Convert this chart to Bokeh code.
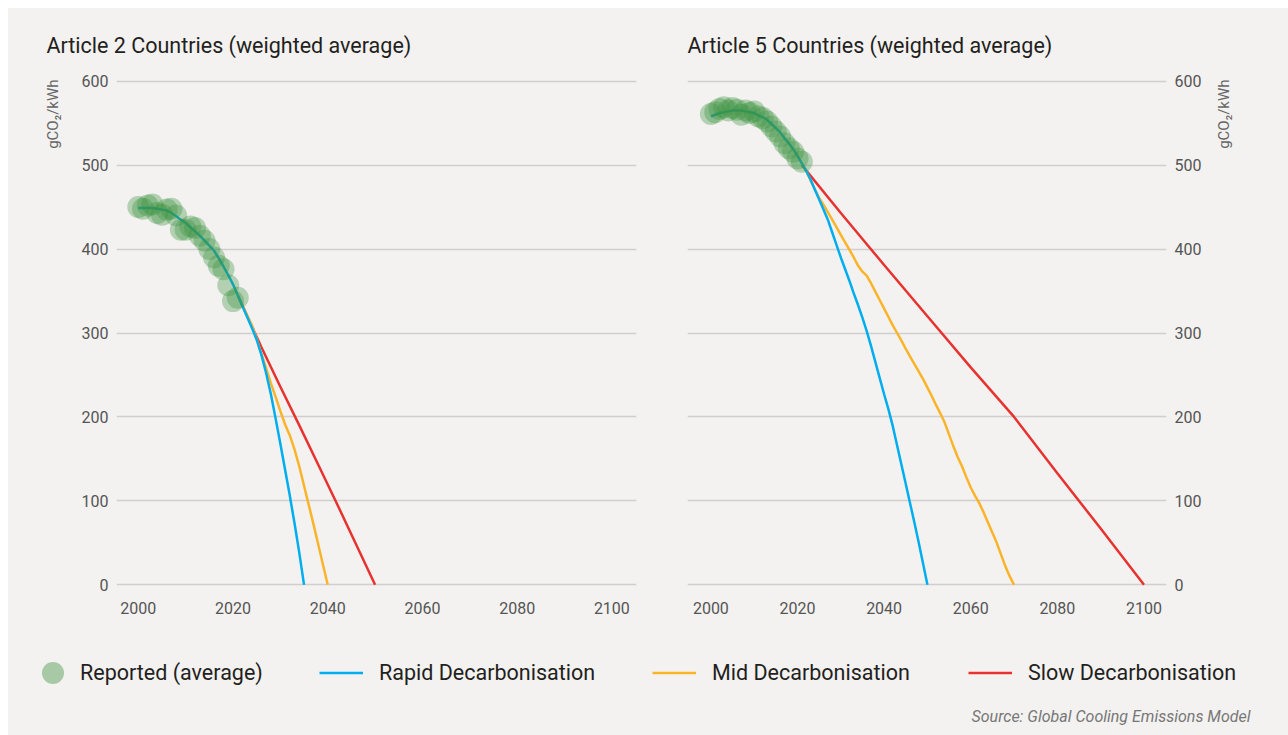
import math
import numpy as np
from bokeh.plotting import figure
from bokeh.layouts import column, row
from bokeh.models import Range1d, FixedTicker, Label, Legend, LegendItem, Title
from bokeh.embed import file_html
from bokeh.resources import INLINE

# ---------------- data ----------------
years_reported = list(range(2000, 2022))

a2_reported = [450, 448, 452, 453, 443, 441, 447, 448, 440, 423, 423,
               427, 425, 416, 410, 400, 390, 380, 376, 357, 338, 342]
a2_trend = [449, 449, 449, 449, 448, 447, 446, 443, 439, 435, 431,
            426, 421, 416, 410, 404, 398, 389, 379, 369, 358, 345]

a2_rapid_years = list(range(2021, 2036))
a2_rapid = [345, 332, 319, 306, 292, 274, 252, 227, 198, 168, 137, 106, 73, 38, 0]
a2_mid_years = list(range(2021, 2041))
a2_mid = [345, 333, 321, 309, 293, 275, 258, 240, 224, 207, 191, 178, 161, 141,
          118, 95, 72, 48, 24, 0]
a2_slow_years = [2021, 2026, 2030, 2034, 2038, 2042, 2046, 2050]
a2_slow = [345, 283, 236, 190, 143, 96, 48, 0]

a5_reported = [561, 563, 567, 569, 565, 568, 566, 560, 565, 562, 564,
               558, 556, 552, 546, 540, 534, 526, 520, 516, 508, 504]
a5_trend = [558, 560, 562, 563, 564, 565, 565, 565, 564, 563, 562,
            559, 557, 554, 549, 544, 539, 532, 526, 519, 511, 502]

a5_rapid_years = list(range(2021, 2051))
a5_rapid = [502, 493, 483, 471, 459, 447, 435, 420, 405, 390, 376, 362, 347, 333, 318,
            302, 284, 265, 246, 227, 209, 189, 166, 143, 120, 97, 74, 50, 25, 0]
a5_mid_years = list(range(2021, 2071))
a5_mid = [502, 493, 482, 471, 461, 453, 444, 435, 426, 417,
          408, 399, 390, 380, 373, 368, 359, 349, 339, 329,
          319, 309, 300, 291, 281, 272, 263, 254, 245, 235,
          225, 214, 204, 193, 179, 165, 152, 141, 128, 116,
          106, 97, 86, 74, 62, 50, 36, 22, 10, 0]
a5_slow_years = [2021, 2030, 2040, 2050, 2060, 2070, 2080, 2090, 2100]
a5_slow = [500, 443, 381, 320, 259, 200, 133, 67, 0]

x_ticks = [2000, 2020, 2040, 2060, 2080, 2100]
y_ticks = [0, 100, 200, 300, 400, 500, 600]

titles = ["Article 2 Countries (weighted average)", "Article 5 Countries (weighted average)"]
y_label = "gCO\u2082/kWh"
legend_labels = ["Reported (average)", "Rapid Decarbonisation", "Mid Decarbonisation", "Slow Decarbonisation"]
source_text = "Source: Global Cooling Emissions Model"

# ---------------- style ----------------
BG = "#f3f2f0"
GREEN = "#3d9140"
BLUE = "#00aeef"
ORANGE = "#fbb42a"
RED = "#e8322f"
GRID = "#cfcfcf"
FONT = "Roboto"
LW = 2.5
LABEL_COLOR = "#666666"
PANEL_H = 632


def make_panel(width, xr, bl, br, title, title_offset, yloc, trend, reported,
               rapid_x, rapid, mid_x, mid, slow_x, slow):
    p = figure(width=width, height=PANEL_H, x_range=Range1d(*xr), y_range=Range1d(-2, 602),
               output_backend="svg", toolbar_location=None, y_axis_location=yloc,
               min_border_left=bl, min_border_right=br, min_border_top=70, min_border_bottom=54,
               background_fill_color=BG, border_fill_color=BG, outline_line_color=None,
               title=title)
    p.title.align = "left"
    p.title.offset = title_offset
    p.title.standoff = 44
    p.title.text_font = FONT
    p.title.text_font_size = "21.5px"
    p.title.text_font_style = "normal"
    p.title.text_color = "#231f20"

    xt = FixedTicker(ticks=x_ticks)
    yt = FixedTicker(ticks=y_ticks)
    p.xaxis.ticker = xt
    p.yaxis.ticker = yt
    p.ygrid.ticker = yt
    p.xgrid.grid_line_color = None
    p.ygrid.grid_line_color = GRID
    p.ygrid.grid_line_width = 1.5
    for ax in (p.xaxis, p.yaxis):
        ax.axis_line_color = None
        ax.major_tick_line_color = None
        ax.minor_tick_line_color = None
        ax.major_tick_out = 0
        ax.major_tick_in = 0
        ax.minor_tick_out = 0
        ax.major_label_text_font = FONT
        ax.major_label_text_font_size = "16px"
        ax.major_label_text_color = "#555555"
    p.xaxis.major_label_standoff = 15
    p.yaxis.major_label_standoff = 8

    p.line(slow_x, slow, line_color=RED, line_width=LW)
    p.line(mid_x, mid, line_color=ORANGE, line_width=LW)
    p.line(rapid_x, rapid, line_color=BLUE, line_width=LW)
    p.line(years_reported, trend, line_color=BLUE, line_width=LW)
    p.scatter(years_reported, reported, size=22, fill_color=GREEN, fill_alpha=0.35, line_color=None)
    return p


def unit_title(standoff):
    return Title(text=y_label, align="right", standoff=standoff, text_font=FONT,
                 text_font_size="15px", text_font_style="normal", text_color=LABEL_COLOR)


p1 = make_panel(652, (1995.4, 2105.2), 108, 24, titles[0], -70, "left",
                a2_trend, a2_reported, a2_rapid_years, a2_rapid, a2_mid_years, a2_mid,
                a2_slow_years, a2_slow)
p2 = make_panel(546, (1994.6, 2105.2), 27, 40, titles[1], 0, "right",
                a5_trend, a5_reported, a5_rapid_years, a5_rapid, a5_mid_years, a5_mid,
                a5_slow_years, a5_slow)

# left unit label: title on the left side, aligned with the top of the frame
p1.add_layout(unit_title(34), "left")

# right unit label: a narrow strip right of the second panel whose (empty) frame
# has the same top; the label sits on its left side, reading bottom-to-top
p3 = figure(width=82, height=PANEL_H, x_range=Range1d(0, 1), y_range=Range1d(0, 1),
            output_backend="svg", toolbar_location=None,
            min_border_left=31, min_border_right=0, min_border_top=70, min_border_bottom=54,
            x_axis_location=None, y_axis_location=None, outline_line_color=None,
            background_fill_color=BG, border_fill_color=BG)
p3.xgrid.visible = False
p3.ygrid.visible = False
p3.add_layout(unit_title(10), "left")

# ---------------- legend strip ----------------
pl = figure(width=1280, height=95, x_range=Range1d(0, 1), y_range=Range1d(0, 1),
            output_backend="svg", toolbar_location=None, min_border=0,
            min_border_left=0, min_border_right=0, min_border_top=0, min_border_bottom=0,
            x_axis_location=None, y_axis_location=None, outline_line_color=None,
            background_fill_color=BG, border_fill_color=BG)
pl.xgrid.visible = False
pl.ygrid.visible = False

nan = np.array([np.nan])
r_rep = pl.scatter(x=nan, y=nan, size=22, fill_color=GREEN, fill_alpha=0.42, line_color=None)
r_rapid = pl.line(x=nan, y=nan, line_color=BLUE, line_width=LW)
r_mid = pl.line(x=nan, y=nan, line_color=ORANGE, line_width=LW)
r_slow = pl.line(x=nan, y=nan, line_color=RED, line_width=LW)

specs = [(r_rep, legend_labels[0], 17, 55, -1),
         (r_rapid, legend_labels[1], 311, 44, 16),
         (r_mid, legend_labels[2], 644, 44, 16),
         (r_slow, legend_labels[3], 960, 44, 16)]
for r, lab, x, gw, so in specs:
    lg = Legend(items=[LegendItem(label=lab, renderers=[r])], location=(x, 35),
                orientation="horizontal", padding=0, margin=0, border_line_color=None,
                background_fill_alpha=0, glyph_width=gw, glyph_height=55, label_standoff=so,
                label_text_font=FONT, label_text_font_size="21.5px", label_text_color="#231f20")
    pl.add_layout(lg)

pl.add_layout(Label(x=1242, y=19, x_units="screen", y_units="screen", text=source_text,
                    text_align="right", text_baseline="middle", text_font=FONT,
                    text_font_style="italic", text_font_size="16px", text_color="#777777"))

top = row(p1, p2, p3, styles={"background-color": BG})
layout = column(top, pl, margin=(8, 0, 0, 8), styles={"background-color": BG})
open("out.html", "w").write(file_html(layout, INLINE))
